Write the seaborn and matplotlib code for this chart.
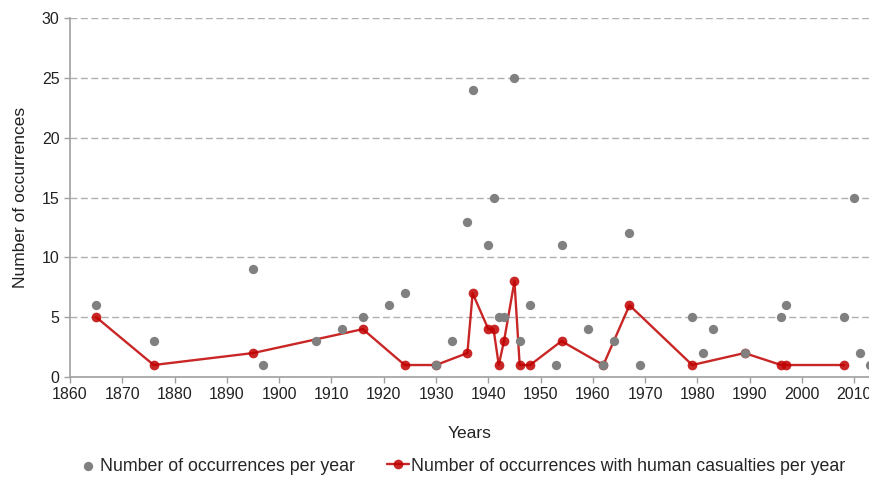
import seaborn as sns
import matplotlib.pyplot as plt
import pandas as pd

# all occurrences per year (grey dots)
years_all = [1865, 1876, 1895, 1897, 1907, 1912, 1916, 1921, 1924, 1930, 1933,
             1936, 1937, 1940, 1941, 1942, 1943, 1945, 1946, 1948, 1953, 1954,
             1959, 1962, 1964, 1967, 1969, 1979, 1981, 1983, 1989, 1996, 1997,
             2008, 2010, 2011, 2013]
counts_all = [6, 3, 9, 1, 3, 4, 5, 6, 7, 1, 3,
              13, 24, 11, 15, 5, 5, 25, 3, 6, 1, 11,
              4, 1, 3, 12, 1, 5, 2, 4, 2, 5, 6,
              5, 15, 2, 1]

# occurrences with human casualties (red line)
years_cas = [1865, 1876, 1895, 1916, 1924, 1930, 1936, 1937, 1940, 1941, 1942,
             1943, 1945, 1946, 1948, 1954, 1962, 1967, 1979, 1989, 1996, 1997, 2008]
counts_cas = [5, 1, 2, 4, 1, 1, 2, 7, 4, 4, 1,
              3, 8, 1, 1, 3, 1, 6, 1, 2, 1, 1, 1]

df_all = pd.DataFrame({'Year': years_all, 'Count': counts_all})
df_cas = pd.DataFrame({'Year': years_cas, 'Count': counts_cas})

sns.set_style("white")
plt.rcParams['font.family'] = ['Liberation Sans', 'DejaVu Sans']

fig = plt.figure(figsize=(8.7, 4.79), dpi=100)
ax = fig.add_axes([0.0805, 0.213, 0.9195, 0.749])

sns.lineplot(data=df_cas, x='Year', y='Count', color='#c00000', linewidth=1.7,
             marker='o', markersize=7, markeredgewidth=0, alpha=0.85, ax=ax,
             label='Number of occurrences with human casualties per year',
             zorder=2)
sns.scatterplot(data=df_all, x='Year', y='Count', color='#808080', s=45,
                linewidth=0, ax=ax, label='Number of occurrences per year',
                zorder=3)

ax.set_xlim(1860, 2013)
ax.set_ylim(0, 30)
ax.set_xticks(range(1860, 2011, 10))
ax.set_yticks(range(0, 31, 5))
ax.yaxis.grid(True, linestyle=(0, (5, 2.5)), color='#b0b0b0', linewidth=1)
ax.xaxis.grid(False)

for s in ['top', 'right']:
    ax.spines[s].set_visible(False)
for s in ['left', 'bottom']:
    ax.spines[s].set_color('#a0a0a0')
    ax.spines[s].set_linewidth(1.2)

ax.tick_params(axis='both', which='major', length=4, width=1, color='#a0a0a0',
               labelsize=11.5, labelcolor='#222222', direction='out',
               bottom=True, left=True)
ax.set_xlabel('Years', fontsize=12.5, color='#222222', labelpad=17)
ax.set_ylabel('Number of occurrences', fontsize=12.5, color='#222222', labelpad=10)

handles, labels = ax.get_legend_handles_labels()
ax.legend_.remove()
order = [1, 0]
fig.legend([handles[i] for i in order], [labels[i] for i in order],
           loc='center', bbox_to_anchor=(0.530, 0.027), ncol=2, frameon=False,
           fontsize=12.8, handlelength=1.2, handletextpad=0.1, columnspacing=1.8)

fig.savefig('out.png', dpi=100)
